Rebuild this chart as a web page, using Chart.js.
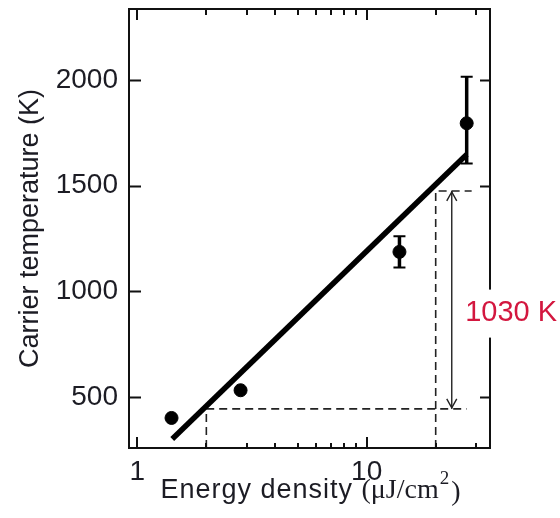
<!DOCTYPE html>
<html>
<head>
<meta charset="utf-8">
<script src="https://cdn.jsdelivr.net/npm/chart.js@4.4.1/dist/chart.umd.min.js"></script>
<style>
  html, body { margin: 0; padding: 0; background: #fff; }
  #wrap { width: 560px; height: 518px; }
</style>
</head>
<body>
<div id="wrap"><canvas id="chart" width="560" height="518"></canvas></div>
<script>
// ── values ───────────────────────────────────────────────────────────────────
const energy = [1.41, 2.82, 13.9, 27.3];          // µJ/cm²
const temperature = [402, 533, 1187, 1795];       // K
const errLow = [0, 0, 74, 190];
const errHigh = [0, 0, 74, 220];

// straight fit line (log x)
const fitEnergy = [1.42, 27.3];
const fitTemp = [303, 1647];

// dashed guides + arrow marking the 1030 K rise
const guideLowE = [2, 2, 27.3];
const guideLowT = [260, 445, 445];
const guideHighE = [20, 20, 28.7];
const guideHighT = [260, 1475, 1475];
const arrowE = [23.5, 23.5];
const arrowT = [445, 1475];
const deltaText = "1030 K";
const deltaAt = [26.9, 900];

// axes
const xRange = [0.92, 34.5];
const yRange = [260, 2335];
const xLabelTicks = [1, 10];
const xMinorTicks = [2, 3, 4, 5, 6, 7, 8, 9, 20, 30];
const yTicks = [500, 1000, 1500, 2000];

const INK = "#1c1c24";
const SANS = "'Liberation Sans', Arial, sans-serif";
const SERIF = "'Liberation Serif', 'Times New Roman', serif";

const pts = (xs, ys) => xs.map((x, i) => ({ x, y: ys[i] }));

// ── frame, inward ticks, error bars, arrow heads, labels ────────────────────
const decorPlugin = {
    id: "decor",
    afterDatasetsDraw(chart) {
        const { ctx, chartArea: a, scales: { x, y } } = chart;
        ctx.save();

        // error bars
        ctx.strokeStyle = "#000";
        energy.forEach((e, i) => {
            if (!errLow[i] && !errHigh[i]) return;
            const px = x.getPixelForValue(e);
            const top = y.getPixelForValue(temperature[i] + errHigh[i]);
            const bot = y.getPixelForValue(temperature[i] - errLow[i]);
            ctx.lineWidth = 3.5;
            ctx.beginPath();
            ctx.moveTo(px, top); ctx.lineTo(px, bot);
            ctx.stroke();
            ctx.lineWidth = 2;
            ctx.beginPath();
            ctx.moveTo(px - 6, top); ctx.lineTo(px + 6, top);
            ctx.moveTo(px - 6, bot); ctx.lineTo(px + 6, bot);
            ctx.stroke();
        });

        // arrow heads
        const ax = x.getPixelForValue(arrowE[0]);
        const aTop = y.getPixelForValue(arrowT[1]);
        const aBot = y.getPixelForValue(arrowT[0]);
        ctx.strokeStyle = "#222";
        ctx.lineWidth = 1.4;
        ctx.beginPath();
        ctx.moveTo(ax - 5, aTop + 10); ctx.lineTo(ax, aTop + 1); ctx.lineTo(ax + 5, aTop + 10);
        ctx.moveTo(ax - 5, aBot - 10); ctx.lineTo(ax, aBot - 1); ctx.lineTo(ax + 5, aBot - 10);
        ctx.stroke();

        // frame
        ctx.strokeStyle = "#111";
        ctx.lineWidth = 2;
        ctx.strokeRect(a.left, a.top, a.right - a.left, a.bottom - a.top);

        // inward ticks
        ctx.lineWidth = 2;
        ctx.beginPath();
        yTicks.forEach(v => {
            const py = Math.round(y.getPixelForValue(v)) + 0.5;
            ctx.moveTo(a.left, py); ctx.lineTo(a.left + 12, py);
            ctx.moveTo(a.right, py); ctx.lineTo(a.right - 10, py);
        });
        xLabelTicks.forEach(v => {
            const px = Math.round(x.getPixelForValue(v));
            ctx.moveTo(px, a.bottom); ctx.lineTo(px, a.bottom - 11);
            ctx.moveTo(px, a.top); ctx.lineTo(px, a.top + 11);
        });
        xMinorTicks.forEach(v => {
            const px = Math.round(x.getPixelForValue(v));
            ctx.moveTo(px, a.bottom); ctx.lineTo(px, a.bottom - 5);
            ctx.moveTo(px, a.top); ctx.lineTo(px, a.top + 6);
        });
        ctx.stroke();

        // 1030 K label on a white patch (breaks the right frame)
        const lx = x.getPixelForValue(deltaAt[0]);
        const ly = y.getPixelForValue(deltaAt[1]);
        ctx.font = "29px " + SANS;
        const w = ctx.measureText(deltaText).width;
        ctx.fillStyle = "#fff";
        ctx.fillRect(lx - 2, ly - 23, w + 6, 48);
        ctx.fillStyle = "#d3173f";
        ctx.textBaseline = "middle";
        ctx.textAlign = "left";
        ctx.fillText(deltaText, lx, ly);

        // x title: sans words, serif unit with superscript
        const base = 498;
        const cx = (a.left + a.right) / 2 + 1;
        const part1 = "Energy density ";
        const part2 = "(\u03bcJ/cm";
        const sup = "2";
        const part3 = ")";
        ctx.textBaseline = "alphabetic";
        ctx.font = "27px " + SANS;
        if ("letterSpacing" in ctx) ctx.letterSpacing = "1px";
        const w1 = ctx.measureText(part1).width;
        ctx.letterSpacing = "0px";
        ctx.font = "28px " + SERIF;
        const w2 = ctx.measureText(part2).width;
        const w4 = ctx.measureText(part3).width;
        ctx.font = "19px " + SERIF;
        const w3 = ctx.measureText(sup).width + 3;
        let tx = cx - (w1 + w2 + w3 + w4) / 2;
        ctx.fillStyle = INK;
        ctx.font = "27px " + SANS;
        ctx.letterSpacing = "1px";
        ctx.fillText(part1, tx, base); tx += w1;
        ctx.letterSpacing = "0px";
        ctx.font = "28px " + SERIF;
        ctx.fillText(part2, tx, base); tx += w2;
        ctx.font = "19px " + SERIF;
        ctx.fillText(sup, tx + 1, base - 14); tx += w3;
        ctx.font = "28px " + SERIF;
        ctx.fillText(part3, tx, base + 2);

        ctx.restore();
    },
};

const dashed = (xs, ys) => ({
    data: pts(xs, ys),
    showLine: true,
    borderColor: "#222",
    borderWidth: 1.6,
    borderDash: [8, 5],
    pointRadius: 0,
    order: 3,
});

new Chart(document.getElementById("chart"), {
    type: "scatter",
    data: {
        datasets: [
            {
                label: "measured",
                data: pts(energy, temperature),
                pointRadius: 6.5,
                pointBackgroundColor: "#000",
                pointBorderColor: "#000",
                order: 0,
            },
            {
                label: "fit",
                data: pts(fitEnergy, fitTemp),
                showLine: true,
                borderColor: "#000",
                borderWidth: 5.5,
                pointRadius: 0,
                order: 1,
            },
            {
                label: "arrow",
                data: pts(arrowE, arrowT),
                showLine: true,
                borderColor: "#222",
                borderWidth: 1.4,
                pointRadius: 0,
                order: 2,
            },
            dashed(guideLowE, guideLowT),
            dashed(guideHighE, guideHighT),
        ],
    },
    options: {
        responsive: false,
        animation: false,
        devicePixelRatio: 1,
        events: [],
        layout: { padding: { top: 9, right: 70, bottom: 0, left: 0 } },
        plugins: { legend: { display: false }, tooltip: { enabled: false } },
        scales: {
            x: {
                type: "logarithmic",
                min: xRange[0],
                max: xRange[1],
                grid: { display: false, drawTicks: false },
                border: { display: false },
                afterBuildTicks: s => { s.ticks = xLabelTicks.map(v => ({ value: v })); },
                afterFit: s => { s.height = 70; s.paddingLeft = 0; s.paddingRight = 0; },
                ticks: {
                    color: INK,
                    font: { family: SANS, size: 28 },
                    padding: 7,
                    maxRotation: 0,
                    autoSkip: false,
                    callback: v => String(v),
                },
            },
            y: {
                type: "linear",
                min: yRange[0],
                max: yRange[1],
                grid: { display: false, drawTicks: false },
                border: { display: false },
                afterBuildTicks: s => { s.ticks = yTicks.map(v => ({ value: v })); },
                afterFit: s => { s.width = 129; s.paddingTop = 0; s.paddingBottom = 0; },
                ticks: {
                    color: INK,
                    font: { family: SANS, size: 28 },
                    padding: 11,
                    callback: v => String(v),
                },
                title: {
                    display: true,
                    text: "Carrier temperature (K)",
                    color: INK,
                    font: { family: SANS, size: 27 },
                    padding: { top: 14, bottom: 0 },
                },
            },
        },
    },
    plugins: [decorPlugin],
});
</script>
</body>
</html>
